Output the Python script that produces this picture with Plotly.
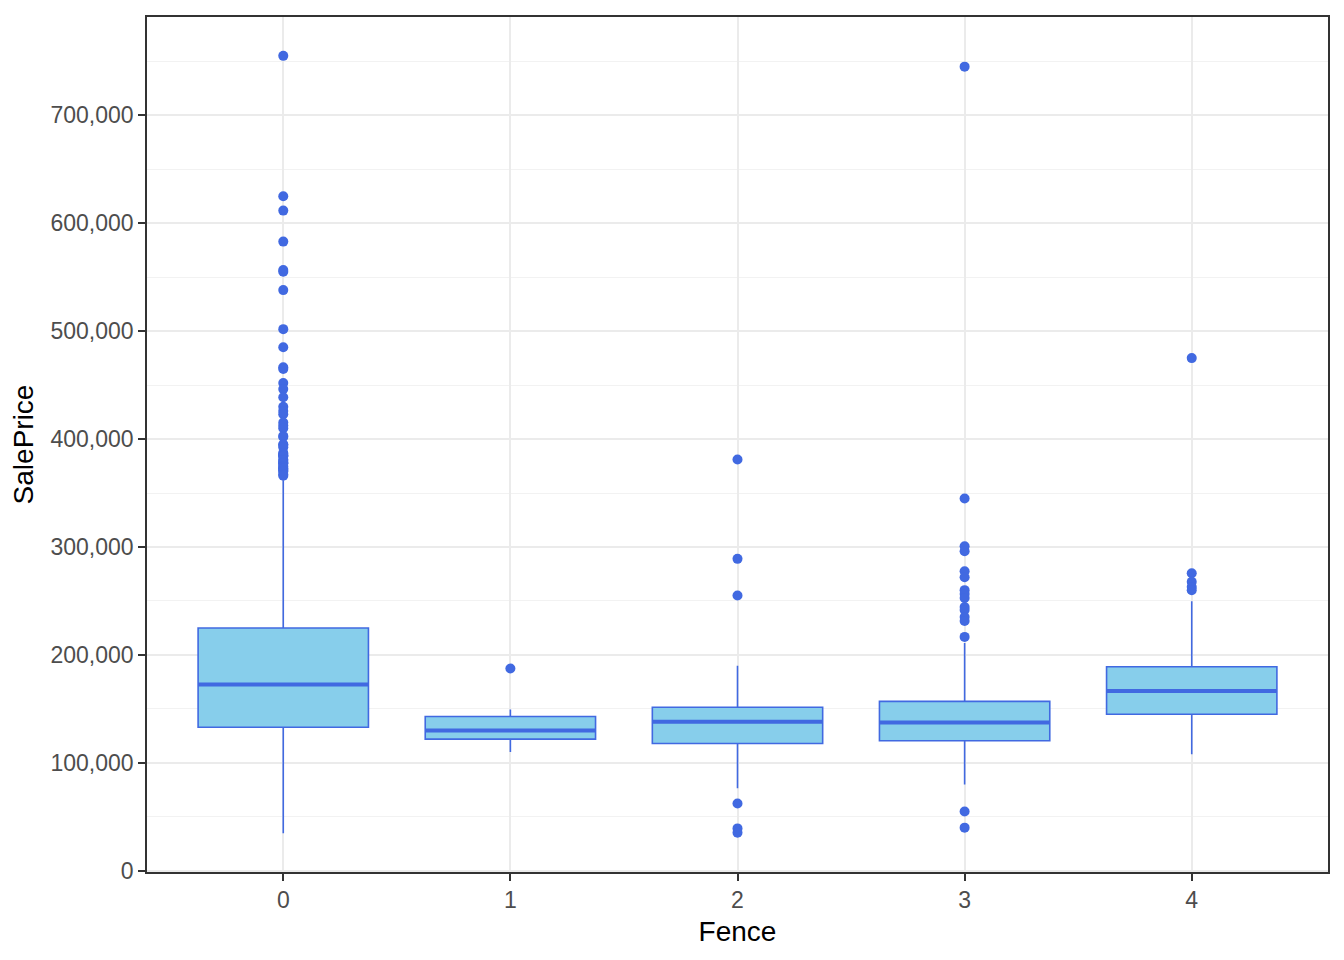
import plotly.graph_objects as go

# ---- data ----
fence = [0, 1, 2, 3, 4]
q1 = [133000, 122000, 118000, 120500, 145000]
median = [172500, 130000, 138000, 137500, 166500]
q3 = [225000, 143000, 151500, 157000, 189000]
lower_whisker = [34900, 110000, 76500, 80000, 108000]
upper_whisker = [361919, 149500, 190000, 211000, 249700]

outliers_0 = [755000, 625000, 611657, 582933, 556581, 555000, 538000, 501837,
              485000, 466500, 465000, 451950, 446261, 438780, 430000, 426000,
              423000, 415298, 412500, 410000, 402861, 402000, 395000, 394617,
              392500, 387000, 386250, 385000, 384500, 383970, 381000, 380000,
              378500, 377500, 377426, 375000, 374000, 372500, 372402, 370878,
              369900, 367294, 366000]
outliers_1 = [187500]
outliers_2 = [381000, 289000, 255000, 62383, 39300, 35311]
outliers_3 = [745000, 345000, 300600, 296000, 277500, 272000, 260000, 256400,
              252700, 244400, 241600, 235200, 231500, 216700, 55000, 40000]
outliers_4 = [475000, 275700, 267700, 263000, 260000]
outliers = [outliers_0, outliers_1, outliers_2, outliers_3, outliers_4]

# ---- style ----
FILL = "#87CEEB"
LINE = "#4169E1"
BOXW = 0.75
FONT = "Liberation Sans, Arial, sans-serif"

fig = go.Figure()

fig.add_trace(go.Box(
    x=fence, q1=q1, median=median, q3=q3,
    lowerfence=lower_whisker, upperfence=upper_whisker,
    boxpoints=False, width=BOXW, whiskerwidth=0,
    fillcolor=FILL, line=dict(color=LINE, width=1.6),
    showlegend=False, hoverinfo="skip",
))

# thicker median bars (ggplot fatten)
mx, my = [], []
for f, m in zip(fence, median):
    mx += [f - BOXW / 2, f + BOXW / 2, None]
    my += [m, m, None]
fig.add_trace(go.Scatter(x=mx, y=my, mode="lines",
                         line=dict(color=LINE, width=4),
                         showlegend=False, hoverinfo="skip"))

ox, oy = [], []
for f, vals in zip(fence, outliers):
    ox += [f] * len(vals)
    oy += vals
fig.add_trace(go.Scatter(x=ox, y=oy, mode="markers",
                         marker=dict(color=LINE, size=10, line=dict(width=0)),
                         showlegend=False, hoverinfo="skip"))

all_vals = lower_whisker + upper_whisker + oy
lo, hi = min(all_vals), max(all_vals)
pad = 0.05 * (hi - lo)

axis_common = dict(
    showline=True, linecolor="#333333", linewidth=1.5, mirror=True,
    ticks="outside", ticklen=7, tickwidth=1.5, tickcolor="#333333",
    tickfont=dict(family=FONT, size=23, color="#4D4D4D"),
    gridcolor="#EBEBEB", gridwidth=1.6, zeroline=False,
)

# the page adds an 8px body margin, so the figure is sized/offset to compensate
fig.update_layout(
    width=1336, height=952,
    margin=dict(l=139, r=16, t=7, b=88),
    paper_bgcolor="white", plot_bgcolor="white",
    font=dict(family=FONT),
    xaxis=dict(
        range=[-0.6, 4.6], tickvals=fence, ticktext=[str(f) for f in fence],
        title=dict(text="Fence", font=dict(family=FONT, size=28, color="black"), standoff=9),
        **axis_common,
    ),
    yaxis=dict(
        range=[lo - pad, hi + pad], tickvals=[0, 100000, 200000, 300000, 400000, 500000, 600000, 700000],
        tickformat=",d",
        title=dict(text="SalePrice", font=dict(family=FONT, size=28, color="black"), standoff=10),
        minor=dict(dtick=50000, tick0=0, showgrid=True, gridcolor="#F2F2F2", gridwidth=1, ticks=""),
        **axis_common,
    ),
)

fig.write_html("out.html")
